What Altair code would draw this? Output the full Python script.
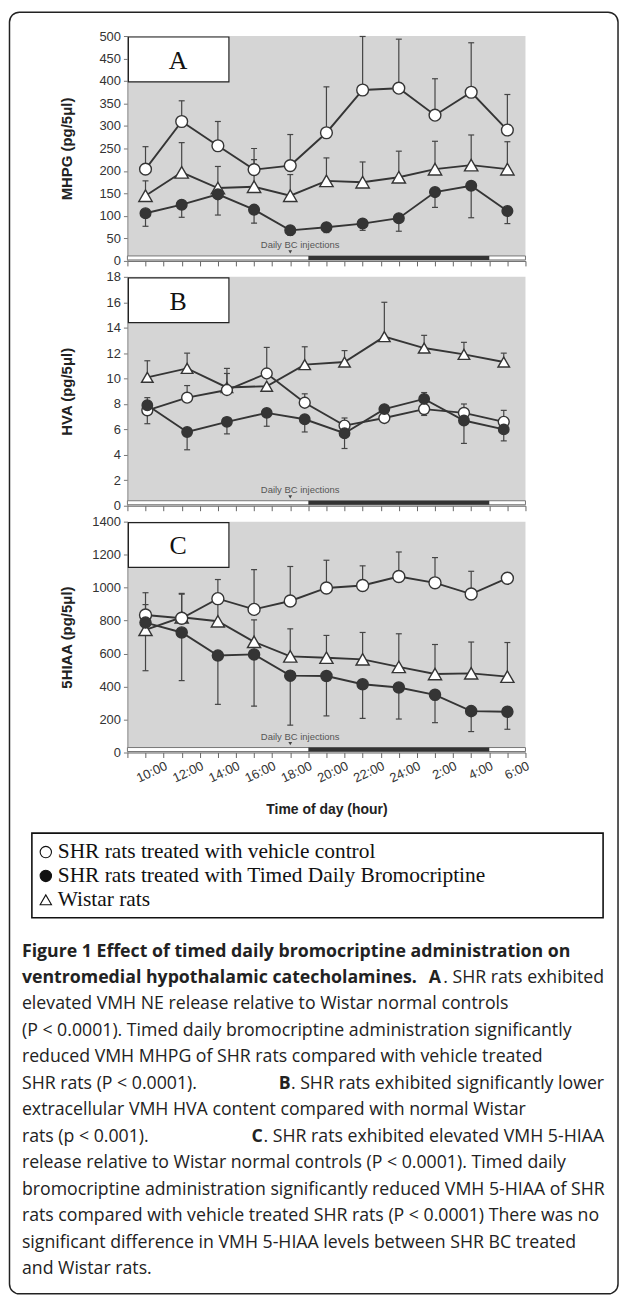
import altair as alt
import pandas as pd

INK = "#353535"
ERR = "#454545"
PANEL_BG = "#d5d5d5"

# ---------------- data ----------------
series_keys = ["veh", "bc", "wis"]
series_names = [
    "SHR rats treated with vehicle control",
    "SHR rats treated with Timed Daily Bromocriptine",
    "Wistar rats",
]

# hour of day on a continuous clock (8 = 8:00, 30 = 6:00 next morning)
hours_ac = [9, 11, 13, 15, 17, 19, 21, 23, 25, 27, 29]
hours_b = [9.1, 11.3, 13.5, 15.7, 17.8, 20.0, 22.2, 24.4, 26.6, 28.8]
axis_hours = [8, 30]
tick_hours = list(range(8, 31))
label_hours = [10, 12, 14, 16, 18, 20, 22, 24, 26, 28, 30]
time_labels = ["10:00", "12:00", "14:00", "16:00", "18:00", "20:00",
               "22:00", "24:00", "2:00", "4:00", "6:00"]
injection_hour = [17]
dark_phase = [18, 28]

# Panel A  MHPG
a_veh    = [204, 310, 256, 203, 212, 285, 380, 384, 324, 375, 291]
a_veh_hi = [254, 356, 310, 250, 281, 387, 499, 493, 405, 485, 370]
a_bc     = [106, 125, 148, 114, 68, 75, 83, 95, 153, 167, 111]
a_bc_lo  = [77, 97, 102, 84, 57, 63, 68, 66, 119, 96, 83]
a_bc_hi  = [106, 125, 210, 114, 68, 75, 83, 95, 153, 167, 111]
a_wis    = [145, 197, 162, 165, 145, 178, 175, 186, 204, 213, 204]
a_wis_hi = [178, 263, 162, 225, 192, 229, 220, 244, 266, 280, 265]

# Panel B  HVA
b_veh    = [7.5, 8.5, 9.1, 10.4, 8.1, 6.3, 6.9, 7.6, 7.3, 6.6]
b_veh_lo = [6.45, 8.5, 9.1, 10.4, 8.1, 6.3, 6.9, 7.1, 7.3, 6.6]
b_veh_hi = [7.5, 9.45, 10.4, 12.45, 8.8, 6.9, 6.9, 7.6, 8.0, 7.5]
b_bc     = [7.9, 5.8, 6.6, 7.3, 6.8, 5.7, 7.6, 8.4, 6.7, 6.0]
b_bc_lo  = [7.9, 4.4, 5.65, 6.25, 5.8, 4.5, 7.6, 8.4, 4.9, 5.1]
b_bc_hi  = [8.5, 5.8, 6.6, 7.3, 6.8, 5.7, 7.6, 8.9, 6.7, 6.0]
b_wis    = [10.1, 10.8, 9.3, 9.4, 11.1, 11.3, 13.3, 12.4, 11.9, 11.3]
b_wis_hi = [11.4, 12.0, 10.8, 9.4, 12.5, 12.2, 16.0, 13.4, 12.85, 12.0]

# Panel C  5HIAA
c_veh    = [834, 814, 933, 868, 919, 998, 1013, 1067, 1029, 961, 1057]
c_veh_hi = [969, 965, 1049, 1109, 1128, 1166, 1132, 1216, 1182, 1099, 1057]
c_bc     = [788, 728, 588, 595, 466, 464, 414, 394, 350, 251, 247]
c_bc_lo  = [496, 436, 292, 281, 166, 222, 207, 203, 181, 127, 141]
c_wis    = [744, 820, 796, 671, 583, 575, 565, 519, 476, 480, 460]
c_wis_hi = [897, 960, 905, 804, 750, 710, 728, 720, 655, 670, 667]

caption_left = [
    "Figure 1 Effect of timed daily bromocriptine administration on",
    "ventromedial hypothalamic catecholamines.",
    "elevated VMH NE release relative to Wistar normal controls",
    "(P < 0.0001). Timed daily bromocriptine administration significantly",
    "reduced VMH MHPG of SHR rats compared with vehicle treated",
    "SHR rats (P < 0.0001).",
    "extracellular VMH HVA content compared with normal Wistar",
    "rats (p < 0.001).",
    "release relative to Wistar normal controls (P < 0.0001). Timed daily",
    "bromocriptine administration significantly reduced VMH 5-HIAA of SHR",
    "rats compared with vehicle treated SHR rats (P < 0.0001) There was no",
    "significant difference in VMH 5-HIAA levels between SHR BC treated",
    "and Wistar rats.",
]
caption_left_bold = [True, True] + [False] * 11
caption_mid = ["", "A", "", "", "", "B", "", "C", "", "", "", "", ""]
caption_right = ["", ". SHR rats exhibited", "", "", "",
                 ". SHR rats exhibited significantly lower", "",
                 ". SHR rats exhibited elevated VMH 5-HIAA", "", "", "", "", ""]


def long_df(hours, parts):
    rows = []
    for key, (vals, lo, hi) in parts.items():
        lo = lo if lo is not None else vals
        hi = hi if hi is not None else vals
        for h, v, l, u in zip(hours, vals, lo, hi):
            rows.append(dict(hour=h, value=v, lo=l, hi=u, series=key))
    return pd.DataFrame(rows)


df_a = long_df(hours_ac, {"veh": (a_veh, None, a_veh_hi),
                          "bc": (a_bc, a_bc_lo, a_bc_hi),
                          "wis": (a_wis, None, a_wis_hi)})
df_b = long_df(hours_b, {"veh": (b_veh, b_veh_lo, b_veh_hi),
                         "bc": (b_bc, b_bc_lo, b_bc_hi),
                         "wis": (b_wis, None, b_wis_hi)})
df_c = long_df(hours_ac, {"veh": (c_veh, None, c_veh_hi),
                          "bc": (c_bc, c_bc_lo, None),
                          "wis": (c_wis, None, c_wis_hi)})

lab_map = {h: t for h, t in zip(label_hours, time_labels)}
label_arr = "[" + ",".join("'" + lab_map.get(h, "") + "'" for h in tick_hours) + "]"


def panel(df, ymax, ystep, ytitle, letter, height, sizes, show_x):
    xs = alt.Scale(domain=axis_hours, nice=False, zero=False)
    ys = alt.Scale(domain=[0, ymax], nice=False)
    xkw = dict(values=tick_hours, grid=False, tickSize=5, tickColor="#666",
               domainColor="#666", domainWidth=1, labelOverlap=False, labelFlush=False)
    if show_x:
        xkw.update(labels=True, labelExpr=label_arr + "[datum.value - 8]",
                   labelAngle=335, labelAlign="right", labelBaseline="top",
                   labelPadding=2, labelFontSize=13, labelColor="#333",
                   title="Time of day (hour)", titleFontSize=14, titleFontWeight="bold",
                   titleColor="#222", titleX=200, titleY=57, titleBaseline="middle",
                   titleAlign="center")
    else:
        xkw.update(labels=False, title=None)
    xaxis = alt.Axis(**xkw)
    yaxis = alt.Axis(values=list(range(0, ymax + 1, ystep)), grid=False, format="d",
                     title=ytitle, titleFontSize=15, titleFontWeight="bold",
                     titleColor="#222", titleX=-61, titleY=height / 2, titleAngle=270,
                     titleBaseline="middle", titleAlign="center",
                     labelFontSize=13, labelColor="#333", labelPadding=3,
                     tickSize=4, tickColor="#777", domainColor="#888", labelFlush=False)

    def X(f):
        return alt.X(f, scale=xs, axis=xaxis)

    def Y(f):
        return alt.Y(f, scale=ys, axis=yaxis)

    base = alt.Chart(df)
    strip = alt.Chart(pd.DataFrame({"s": [axis_hours[0]], "e": [axis_hours[1]]})).mark_rect(
        fill="white", stroke="#777", strokeWidth=1).encode(
        x=X("s:Q"), x2="e:Q", y=alt.value(height - 5), y2=alt.value(height - 1))
    dark = alt.Chart(pd.DataFrame({"s": [dark_phase[0]], "e": [dark_phase[1]]})).mark_rect(
        fill="#333").encode(x=X("s:Q"), x2="e:Q", y=alt.value(height - 5), y2=alt.value(height - 1))
    inj = alt.Chart(pd.DataFrame({"h": injection_hour}))
    inj_text = inj.mark_text(text="Daily BC injections", fontSize=9.5, color="#555",
                             dx=10, baseline="middle").encode(x=X("h:Q"), y=alt.value(height - 16))
    inj_arrow = inj.mark_point(shape="triangle-down", filled=True, size=14, color="#444",
                               opacity=1).encode(x=X("h:Q"), y=alt.value(height - 9))

    rules = base.transform_filter("datum.hi > datum.lo").mark_rule(
        color=ERR, strokeWidth=1.2).encode(x=X("hour:Q"), y=Y("lo:Q"), y2="hi:Q")
    cap_hi = base.transform_filter("datum.hi > datum.value").mark_tick(
        orient="horizontal", size=6, thickness=1.2, color=ERR, opacity=1).encode(
        x=X("hour:Q"), y=Y("hi:Q"))
    cap_lo = base.transform_filter("datum.lo < datum.value").mark_tick(
        orient="horizontal", size=6, thickness=1.2, color=ERR, opacity=1).encode(
        x=X("hour:Q"), y=Y("lo:Q"))
    lines = base.mark_line(color=INK, strokeWidth=1.9).encode(
        x=X("hour:Q"), y=Y("value:Q"), detail="series:N")

    shapes = {"veh": ("circle", "#ffffff"), "bc": ("circle", INK), "wis": ("triangle-up", "#ffffff")}
    pts = []
    for key in ["wis", "veh", "bc"]:
        shp, fill = shapes[key]
        pts.append(base.transform_filter(f"datum.series == '{key}'").mark_point(
            shape=shp, filled=True, fill=fill, stroke=INK, strokeWidth=1.4, opacity=1,
            size=sizes[key]).encode(x=X("hour:Q"), y=Y("value:Q")))

    one = alt.Chart(pd.DataFrame({"t": [letter]}))
    box = one.mark_rect(fill="white", stroke="#222", strokeWidth=1.2).encode(
        x=alt.value(1), x2=alt.value(102), y=alt.value(1), y2=alt.value(46))
    ltxt = one.mark_text(font="Liberation Serif", fontSize=26, color="#111",
                         baseline="middle").encode(text="t:N", x=alt.value(51), y=alt.value(25))

    return alt.layer(strip, dark, inj_text, inj_arrow, rules, cap_hi, cap_lo, lines,
                     *pts, box, ltxt).properties(
        width=400, height=height, view=alt.ViewBackground(fill=PANEL_BG, strokeWidth=0))


pa = panel(df_a, 500, 50, "MHPG (pg/5μl)", "A", 226,
           {"veh": 140, "bc": 115, "wis": 180}, False)
pb = panel(df_b, 18, 2, "HVA (pg/5μl)", "B", 230,
           {"veh": 120, "bc": 110, "wis": 135}, False)
pc = panel(df_c, 1400, 200, "5HIAA (pg/5μl)", "C", 232,
           {"veh": 145, "bc": 125, "wis": 175}, True)

# ---------------- legend + caption ----------------
one = alt.Chart(pd.DataFrame({"a": [0]}))
border = one.mark_rect(fillOpacity=0, stroke="#222", strokeWidth=1.5, cornerRadius=10).encode(
    x=alt.value(-118.5), x2=alt.value(493), y=alt.value(-760), y2=alt.value(528))
lbox = one.mark_rect(fill="white", stroke="#111", strokeWidth=1.6).encode(
    x=alt.value(-96), x2=alt.value(478), y=alt.value(65), y2=alt.value(150))

leg = pd.DataFrame({"key": series_keys, "label": series_names, "row": [0, 1, 2]})
legbase = alt.Chart(leg).transform_calculate(py="84 + datum.row * 24")
leg_sym = []
for key, shp, fill in [("veh", "circle", "#ffffff"), ("bc", "circle", "#111"),
                       ("wis", "triangle-up", "#ffffff")]:
    leg_sym.append(legbase.transform_filter(f"datum.key == '{key}'").mark_point(
        shape=shp, filled=True, fill=fill, stroke="#111", strokeWidth=1.1, opacity=1,
        size=130).encode(x=alt.value(-82), y=alt.Y("py:Q", scale=None, axis=None)))
leg_txt = legbase.mark_text(align="left", baseline="middle", font="Liberation Serif",
                            fontSize=21.5, color="#111").encode(
    text="label:N", x=alt.value(-70), y=alt.Y("py:Q", scale=None, axis=None))

cap = pd.DataFrame({"line": list(range(len(caption_left))), "left": caption_left,
                    "bold": caption_left_bold, "mid": caption_mid, "right": caption_right})
capbase = alt.Chart(cap).transform_calculate(py="184 + datum.line * 26.6")
cap_kw = dict(baseline="middle", font="Open Sans", fontSize=17.8, color="#222")
cap_left_b = capbase.transform_filter("datum.bold").mark_text(
    align="left", fontWeight="bold", **cap_kw).encode(
    text="left:N", x=alt.value(-106), y=alt.Y("py:Q", scale=None, axis=None))
cap_left_r = capbase.transform_filter("!datum.bold").mark_text(
    align="left", **cap_kw).encode(
    text="left:N", x=alt.value(-106), y=alt.Y("py:Q", scale=None, axis=None))
cap_right = capbase.transform_filter("datum.right != ''").mark_text(
    align="right", **cap_kw).encode(
    text="right:N", x=alt.value(479), y=alt.Y("py:Q", scale=None, axis=None))
cap_mid_a = capbase.transform_filter("datum.mid == 'A'").mark_text(
    align="right", fontWeight="bold", **cap_kw).encode(
    text="mid:N", x=alt.value(315), y=alt.Y("py:Q", scale=None, axis=None))
cap_mid_b = capbase.transform_filter("datum.mid == 'B'").mark_text(
    align="right", fontWeight="bold", **cap_kw).encode(
    text="mid:N", x=alt.value(164), y=alt.Y("py:Q", scale=None, axis=None))
cap_mid_c = capbase.transform_filter("datum.mid == 'C'").mark_text(
    align="right", fontWeight="bold", **cap_kw).encode(
    text="mid:N", x=alt.value(136), y=alt.Y("py:Q", scale=None, axis=None))

bottom = alt.layer(border, lbox, *leg_sym, leg_txt, cap_left_b, cap_left_r, cap_right,
                   cap_mid_a, cap_mid_b, cap_mid_c).properties(
    width=400, height=528, view=alt.ViewBackground(strokeWidth=0))

chart = alt.vconcat(pa, pb, pc, bottom, spacing=16, bounds="flush",
                    padding={"left": 0, "top": 0, "right": 2, "bottom": 2}
                    ).configure(font="Liberation Sans").configure_view(strokeWidth=0)

chart.save("out.html", embed_options={"renderer": "svg", "actions": False})
